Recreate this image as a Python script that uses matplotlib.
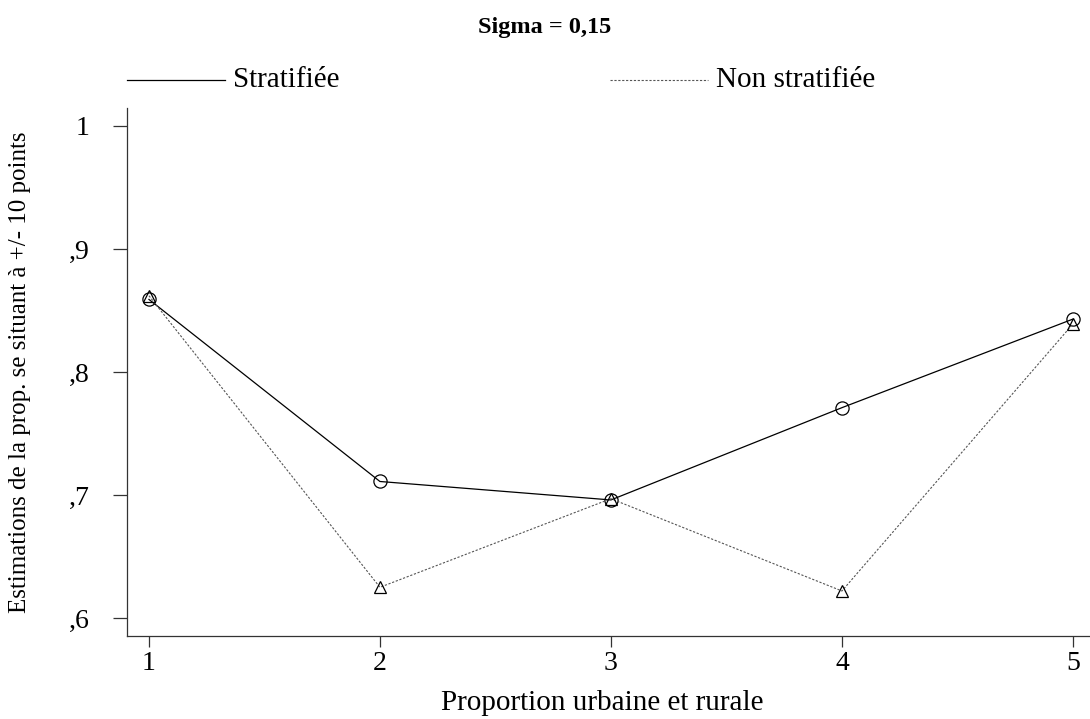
import matplotlib
matplotlib.use("Agg")
import matplotlib.pyplot as plt

# data
proportion = [1, 2, 3, 4, 5]
stratifiee = [0.859, 0.711, 0.696, 0.771, 0.843]
non_stratifiee = [0.862, 0.625, 0.697, 0.622, 0.839]
yticks = [0.6, 0.7, 0.8, 0.9, 1.0]
ytick_labels = [",6", ",7", ",8", ",9", "1"]

plt.rcParams["font.family"] = ["Liberation Serif", "DejaVu Serif"]

W, H = 1090, 719
fig = plt.figure(figsize=(W / 100, H / 100), dpi=100)
ax = fig.add_axes([127 / W, 1 - 636 / H, (W - 127) / W, (636 - 108) / H])

ax.plot(proportion, stratifiee, color="black", lw=0.9, marker="o", ms=9.5,
        mfc="none", mec="black", mew=0.9)
ax.plot(proportion, non_stratifiee, color="#555555", lw=0.8, ls=(0, (2, 1.5)),
        marker="^", ms=9, mfc="none", mec="black", mew=0.9)

ax.set_xlim(0.905, 5.074)
ax.set_ylim(0.5854, 1.0146)
ax.set_xticks(proportion)
ax.set_yticks(yticks)
ax.set_yticklabels(ytick_labels)
ax.tick_params(axis="y", labelsize=20, length=10, width=0.9, color="#333333", pad=17)
ax.tick_params(axis="x", labelsize=20, length=8, width=0.9, color="#333333", pad=3)
for side in ("top", "right"):
    ax.spines[side].set_visible(False)
for side in ("left", "bottom"):
    ax.spines[side].set_linewidth(0.9)
    ax.spines[side].set_color("#333333")

ax.set_xlabel("Proportion urbaine et rurale", fontsize=21)
ax.xaxis.set_label_coords((602 - 127) / (W - 127), -(703 - 636) / (636 - 108))
ax.xaxis.label.set_va("center")
ax.set_ylabel("Estimations de la prop. se situant à +/- 10 points", fontsize=18)
ax.yaxis.set_label_coords(-(127 - 20) / (W - 127), 0.5)
ax.yaxis.label.set_va("center")

fig.text(545 / W, 1 - 28 / H, "Sigma = 0,15", ha="center", va="center",
         fontsize=17.5, fontweight="bold")

# legend drawn above the axes
fig.add_artist(plt.Line2D([127 / W, 225 / W], [1 - 80 / H] * 2,
                          color="black", lw=0.9))
fig.text(233 / W, 1 - 80 / H, "Stratifiée", ha="left", va="center", fontsize=21)
fig.add_artist(plt.Line2D([610 / W, 708 / W], [1 - 80 / H] * 2,
                          color="#555555", lw=0.8, ls=(0, (2, 1.5))))
fig.text(716 / W, 1 - 80 / H, "Non stratifiée", ha="left", va="center", fontsize=21)

fig.savefig("out.png", dpi=100)
